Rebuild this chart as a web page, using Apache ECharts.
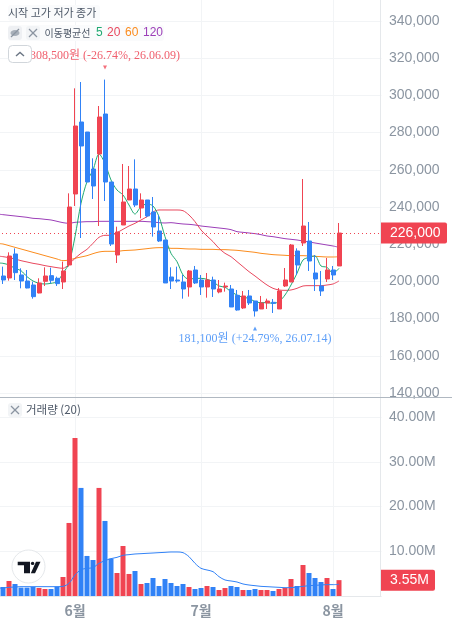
<!DOCTYPE html>
<html><head><meta charset="utf-8">
<style>html,body{margin:0;padding:0;background:#fff}#c{width:452px;height:628px}</style>
<script src="https://cdn.jsdelivr.net/npm/echarts@6/dist/echarts.min.js"></script>
</head><body><div id="c"></div>
<script>
const dates=['26.05.12','26.05.13','26.05.14','26.05.15','26.05.18','26.05.19','26.05.20','26.05.21','26.05.22','26.05.26','26.05.27','26.05.28','26.05.29','26.06.01','26.06.02','26.06.04','26.06.05','26.06.08','26.06.09','26.06.10','26.06.11','26.06.12','26.06.15','26.06.16','26.06.17','26.06.18','26.06.19','26.06.22','26.06.23','26.06.24','26.06.25','26.06.26','26.06.29','26.06.30','26.07.01','26.07.02','26.07.03','26.07.06','26.07.07','26.07.08','26.07.09','26.07.10','26.07.13','26.07.14','26.07.15','26.07.16','26.07.20','26.07.21','26.07.22','26.07.23','26.07.24','26.07.27','26.07.28','26.07.29','26.07.30','26.07.31','26.08.03','26.08.04'];
const monthTicks={'26.06.01':'6월','26.07.01':'7월','26.08.03':'8월'};
const priceTicks=[140000,340000,20000];
const opens=[204000,202910,201840,214740,203450,200220,198070,193770,200040,203090,201660,199680,208820,246990,285700,280320,260430,268500,290000,253440,214200,230330,243770,249680,239470,243770,237320,227100,222260,202370,200760,199680,197000,206130,200760,197000,200760,194310,197000,195920,192510,185710,192160,189470,185170,188390,188750,185170,197530,199680,216350,220650,221720,204520,197530,201300,206130,208290];
const highs=[208000,207930,215630,217780,207030,206130,199860,201660,207570,207390,202550,210620,247350,303800,307200,280320,266170,294300,308500,253440,229430,263120,262050,265630,247350,243770,245380,235700,222260,207570,207930,203450,206130,208290,203450,204520,202550,200760,199320,198070,195390,194840,195390,189470,192160,190720,190540,196460,207210,220110,217780,255060,231940,214200,205600,212590,208290,231400];
const lows=[200000,198610,200400,200760,196280,196280,190720,193590,197530,198970,197530,195920,207930,240540,223340,253440,244310,229790,243230,219040,209900,230330,243770,240000,233910,234450,224060,221190,199150,195920,199320,190720,191800,198610,192690,191260,191620,193590,194490,186240,184270,185170,187320,181100,185170,185170,183020,185170,197000,199680,203450,219040,205600,194840,192160,199680,200760,208290];
const closes=[201000,200760,213660,204700,200220,196460,191800,199150,202910,200580,198790,205600,240000,283550,272800,253440,251290,288390,253440,220110,226560,242690,249680,241080,243770,235170,229250,221730,199150,200220,200220,195920,205600,199150,197000,200760,195920,195920,197530,186240,184630,192160,188390,184090,188390,189470,188210,194840,200760,219570,208820,229790,210970,201300,194840,206130,203450,226000];
const ma5=[209900,209720,208820,207030,205780,202550,200220,198970,198610,198970,199860,204340,209720,224060,241980,253620,259900,268500,263480,254520,249140,246460,241080,236240,240180,241620,240540,234810,224060,215090,210610,203450,201120,201650,201650,201120,199860,197530,196820,194490,192690,191440,190900,189110,188570,188570,188210,189110,192690,198070,204340,211510,212940,213660,208290,207570,204340,207030];
const ma20=[213660,213300,212770,212050,211150,210440,209720,209180,208470,207930,207390,207030,209180,212410,215100,217250,220470,223700,224770,224770,226210,228000,229790,231220,233020,234810,237320,238400,238400,238390,238390,238030,235700,232120,227640,224410,221370,217780,215090,213300,210610,207930,205240,202910,200400,198070,196280,195380,195200,195380,196280,197530,197710,197710,197710,198070,198610,200220];
const ma60=[220470,220110,219220,218320,217420,216530,215630,214740,213840,212950,212050,211150,211510,212410,213120,213840,214920,215810,216170,216170,216170,216530,216710,216890,217250,217600,217960,218140,218140,217780,217780,217600,217420,217420,217240,217240,217240,217060,217060,216890,216710,216350,215990,215630,215090,214740,214380,214200,214020,213840,213840,213840,213660,213480,213300,213120,213120,213300];
const ma120=[236240,235880,235520,235170,234810,234450,233910,233730,233370,233020,232300,231580,231220,231760,231940,232120,232120,232300,232300,232300,232300,232300,232300,232300,232300,232120,231940,231580,231400,231580,231220,230870,230680,230330,229790,229430,229070,228710,228350,227820,226740,226380,226030,225670,225130,224410,224050,223520,222980,222620,222260,221720,221190,220650,220110,219570,219040,218320];
const volumes=[1.79,2.01,3.36,2.69,1.87,1.87,2.01,1.79,1.57,1.57,2.09,4.25,16.34,35.37,24.18,8.96,8.06,24.18,16.79,8.36,5.15,11.19,4.93,5.6,2.69,2.91,4.03,2.24,3.81,2.91,2.24,2.69,2.01,1.57,1.79,2.24,2.01,1.34,1.79,2.24,2.01,1.34,1.34,1.57,1.34,1.34,1.12,1.57,1.79,3.81,2.24,6.94,5.15,4.03,3.13,4.03,1.57,3.55];
const volumeMa=[1.75,1.79,1.94,2.01,2.09,2.09,2.09,2.09,2.09,2.09,2.09,2.16,2.83,4.7,5.89,6.19,6.34,7.31,7.91,8.36,8.65,9.1,9.25,9.4,9.47,9.55,9.62,9.7,9.77,9.85,9.85,9.7,8.8,7.31,6.19,5.82,5.45,4.33,3.58,3.36,3.13,2.69,2.46,2.31,2.16,2.09,2.01,1.94,1.87,1.87,2.01,2.16,2.31,2.39,2.46,2.54,2.54,2.61];
const highNote='308,500원 (-26.74%, 26.06.09)', lowNote='181,100원 (+24.79%, 26.07.14)';

const RED='#F04452',BLUE='#3182F6',GRID='#F2F4F6',AXIS='#E5E8EB',LABEL='#8B95A1';
const SANS='"Liberation Sans",Arial,sans-serif', KR='"Noto Sans CJK KR","Noto Sans",sans-serif', SERIF='"Liberation Serif","Noto Sans CJK KR",serif';
const cats=dates.concat(['','','','','','','']);
const candles=dates.map((d,i)=>[opens[i],closes[i],lows[i],highs[i]]);
const line=(name,data,color,xi,yi)=>({name,type:'line',data,xAxisIndex:xi,yAxisIndex:yi,showSymbol:false,symbol:'none',smooth:0.3,lineStyle:{width:1,color},z:1,animation:false,silent:true});
const G={left:-6,width:390,outerBoundsMode:'none'};
const tag=(val,txt,w)=>({symbol:'none',silent:true,animation:false,data:[{yAxis:val}],precision:2,
  lineStyle:{color:RED,type:[1,3],width:1},
  label:{show:true,position:'end',distance:-3,formatter:txt,color:'#fff',fontFamily:SANS,fontSize:14,backgroundColor:RED,borderRadius:[0,2,2,0],width:w,height:21,lineHeight:21,align:'left',verticalAlign:'middle',padding:[0,0,0,9]}});
const box=(x,y,w,h,fill,stroke,r)=>({type:'rect',silent:true,shape:{x,y,width:w,height:h,r:r||3},style:{fill,stroke:stroke||null}});
const txt=(x,y,text,fill,font)=>({type:'text',silent:true,style:{x,y,text,fill,font:font||('11px '+KR),textVerticalAlign:'middle'}});
const seg=(pts,stroke,lw)=>({type:'polyline',silent:true,shape:{points:pts},style:{stroke,fill:null,lineWidth:lw||1.2}});
const cross=(cx,cy)=>[seg([[cx-4,cy-4],[cx+4,cy+4]],'#8B95A1'),seg([[cx-4,cy+4],[cx+4,cy-4]],'#8B95A1')];

const chart=echarts.init(document.getElementById('c'),null,{renderer:'canvas'});
const volumeTag=tag(volumes[volumes.length-1],'3.55M',45);
volumeTag.lineStyle={color:'rgba(0,0,0,0)',width:0.01};
chart.setOption({
  animation:false,backgroundColor:'#fff',
  grid:[
    Object.assign({},G,{top:0,height:596}),
    Object.assign({},G,{top:21,height:372}),
    Object.assign({},G,{top:398,height:198})
  ],
  xAxis:[
    {gridIndex:0,type:'category',data:cats,boundaryGap:true,
     axisLine:{show:true,lineStyle:{color:AXIS}},axisTick:{show:false},
     splitLine:{show:true,alignWithLabel:true,interval:(i,v)=>!!monthTicks[v],lineStyle:{color:GRID}},
     axisLabel:{interval:(i,v)=>!!monthTicks[v],formatter:v=>monthTicks[v]||'',color:LABEL,fontFamily:KR,fontSize:14,fontWeight:'bold',margin:8,hideOverlap:false}},
    {gridIndex:1,type:'category',data:cats,show:false},
    {gridIndex:2,type:'category',data:cats,show:false}
  ],
  yAxis:[
    {gridIndex:0,type:'value',show:false,min:0,max:1},
    {gridIndex:1,type:'value',position:'right',offset:-3,min:priceTicks[0],max:priceTicks[1],interval:priceTicks[2],
     axisLine:{show:false},axisTick:{show:false},splitLine:{lineStyle:{color:GRID}},
     axisLabel:{margin:8,color:LABEL,fontFamily:SANS,fontSize:14,formatter:v=>v.toLocaleString('en-US')}},
    {gridIndex:2,type:'value',position:'right',offset:-3,min:0,max:44.3,interval:10,
     axisLine:{show:false},axisTick:{show:false},splitLine:{showMaxLine:false,lineStyle:{color:GRID}},
     axisLabel:{margin:8,color:LABEL,fontFamily:SANS,fontSize:14,showMaxLabel:false,formatter:v=>(v>0&&v%10===0)?v.toFixed(2)+'M':''}}
  ],
  series:[
    line('MA120',ma120,'#9C3FB8',1,1),
    line('MA60',ma60,'#FB8C1E',1,1),
    line('MA20',ma20,'#E8485E',1,1),
    line('MA5',ma5,'#1FA971',1,1),
    {name:'price',type:'candlestick',xAxisIndex:1,yAxisIndex:1,data:candles,barWidth:4.5,z:2,animation:false,silent:true,
     itemStyle:{color:RED,color0:BLUE,borderColor:RED,borderColor0:BLUE,borderWidth:1},
     markLine:tag(226000,'226,000',57),
     markPoint:{animation:false,silent:true,data:[
       {coord:['26.06.09',308500],symbol:'triangle',symbolRotate:180,symbolSize:4,symbolOffset:[0,-12],itemStyle:{color:'#F4707C'},
        label:{show:true,position:'top',distance:4,formatter:highNote,color:'#F0606E',fontFamily:SERIF,fontSize:12}},
       {coord:['26.07.14',181100],symbol:'triangle',symbolSize:4,symbolOffset:[0,12],itemStyle:{color:'#5E9FF8'},
        label:{show:true,position:'bottom',distance:2,formatter:lowNote,color:'#5E9FF8',fontFamily:SERIF,fontSize:12}}
     ]}},
    {name:'volume',type:'bar',xAxisIndex:2,yAxisIndex:2,barWidth:5,animation:false,silent:true,z:2,
     data:volumes.map((v,i)=>({value:v,itemStyle:{color:closes[i]>=opens[i]?RED:BLUE}})),
     markLine:volumeTag},
    Object.assign(line('VolMA',volumeMa,BLUE,2,2),{z:3})
  ],
  graphic:{elements:[
    {type:'rect',silent:true,z:1,shape:{x:381.5,y:0,width:4,height:597},style:{fill:'#fff'}},
    {type:'line',silent:true,z:1,shape:{x1:380.5,y1:0,x2:380.5,y2:597},style:{stroke:AXIS,lineWidth:1}},
    {type:'line',silent:true,z:5,shape:{x1:0,y1:397.5,x2:452,y2:397.5},style:{stroke:'#B0B8C1',lineWidth:1}},
    Object.assign(box(8,5,92,16,'#FAFBFC'),{z:6}),
    Object.assign(txt(8,12.5,'시작 고가 저가 종가','#4E5968'),{z:7}),
    Object.assign(box(8,25,156,16,'#FAFBFC'),{z:6}),
    Object.assign(box(8,26,14,14,'#EEF0F3'),{z:6}),
    Object.assign(box(26,26,14,14,'#F2F4F6'),{z:6}),
    {type:'ellipse',silent:true,z:7,shape:{cx:15,cy:33,rx:4.5,ry:3},style:{fill:'#A8B0BA'}},
    Object.assign(seg([[11,37],[19,29]],'#8B95A1'),{z:7}),
    ...cross(33,33).map(e=>Object.assign(e,{z:7})),
    Object.assign(txt(44.5,33,'이동평균선','#4E5968','10px '+KR),{z:7}),
    Object.assign(txt(96,33,'5','#1FA971','12px '+SANS),{z:7}),
    Object.assign(txt(107,33,'20','#E8485E','12px '+SANS),{z:7}),
    Object.assign(txt(125,33,'60','#FB8C1E','12px '+SANS),{z:7}),
    Object.assign(txt(143,33,'120','#9C3FB8','12px '+SANS),{z:7}),
    Object.assign(box(8.5,45.5,23,17,'#fff','#D1D6DB',4),{z:8}),
    Object.assign(seg([[16,56],[20,52.5],[24,56]],'#6B7684',1.4),{z:9}),
    Object.assign(box(8,403,14,14,'#F2F4F6'),{z:6}),
    ...cross(15,410).map(e=>Object.assign(e,{z:7})),
    Object.assign(txt(26,410,'거래량 (20)','#4E5968','11.5px '+KR),{z:7}),
    {type:'circle',silent:true,z:8,shape:{cx:28.5,cy:566.5,r:16.5},style:{fill:'#fff',stroke:'#E5E8EB',lineWidth:1}},
    {type:'polygon',silent:true,z:9,shape:{points:[[17.7,561.7],[30,561.7],[30,573.3],[24,573.3],[24,565.2],[17.7,565.2]]},style:{fill:'#131722'}},
    {type:'circle',silent:true,z:9,shape:{cx:32.6,cy:563.4,r:1.7},style:{fill:'#131722'}},
    {type:'polygon',silent:true,z:9,shape:{points:[[36,561.7],[40.5,561.7],[35,573.3],[30.8,573.3]]},style:{fill:'#131722'}}
  ]}
});
</script></body></html>
